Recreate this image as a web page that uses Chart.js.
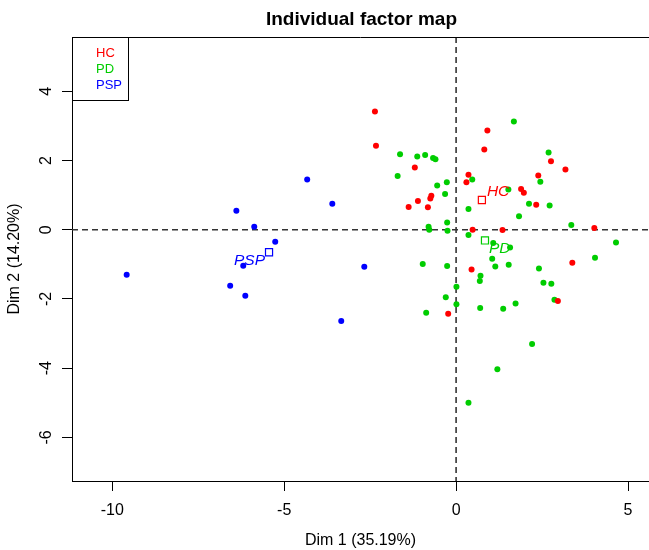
<!DOCTYPE html>
<html>
<head>
<meta charset="utf-8">
<script src="https://cdn.jsdelivr.net/npm/chart.js@4.4.0/dist/chart.umd.min.js"></script>
<style>
html,body{margin:0;padding:0;background:#fff;}
#c{display:block;}
</style>
</head>
<body>
<canvas id="c" width="649" height="550"></canvas>
<script>
// ---- data ----
const groups = ['HC', 'PD', 'PSP'];

const hcX = [-2.36,-2.33,-1.20,-0.72,-0.75,-1.11,-1.38,-0.82,0.36,0.30,0.91,0.82,2.76,3.18,2.39,1.89,1.97,2.33,4.02,0.48,1.35,0.45,-0.23,3.38,2.96];
const hcY = [3.42,2.43,1.80,0.98,0.90,0.83,0.66,0.65,1.59,1.37,2.87,2.32,1.98,1.74,1.57,1.18,1.07,0.72,0.05,0.00,-0.01,-1.15,-2.43,-0.95,-2.06];

const pdX = [-1.63,-1.13,-0.90,-0.67,-0.60,-1.70,-0.27,-0.55,-0.32,0.36,-0.26,-0.80,-0.78,-0.25,0.36,1.68,2.69,0.47,2.45,1.52,2.12,2.72,1.83,3.35,4.65,1.08,1.57,-0.97,-0.26,0.71,0.69,0.01,-0.30,0.01,0.70,-0.87,0.36,1.05,1.14,1.53,2.41,4.04,2.54,2.77,2.86,1.37,1.73,2.21,1.20];
const pdY = [2.18,2.12,2.16,2.07,2.04,1.55,1.37,1.28,1.03,0.60,0.21,0.09,0.00,-0.03,-0.15,3.13,2.23,1.45,1.39,1.16,0.75,0.70,0.39,0.14,-0.37,-0.38,-0.51,-0.99,-1.05,-1.33,-1.48,-1.65,-1.95,-2.15,-2.26,-2.40,-5.00,-0.84,-1.06,-1.01,-1.12,-0.81,-1.53,-1.56,-2.02,-2.28,-2.13,-3.30,-4.03];

const pspX = [-9.58,-6.39,-5.87,-5.26,-6.19,-6.57,-6.13,-4.33,-3.60,-2.67,-3.34];
const pspY = [-1.30,0.55,0.09,-0.35,-1.04,-1.62,-1.91,1.45,0.75,-1.07,-2.64];

const centroidX = [0.75, 0.84, -5.44];
const centroidY = [0.86, -0.31, -0.65];

const xTicks = [-10, -5, 0, 5];
const yTicks = [-6, -4, -2, 0, 2, 4];

const titleText = 'Individual factor map';
const xTitle = 'Dim 1 (35.19%)';
const yTitle = 'Dim 2 (14.20%)';

// ---- styles ----
const colors = ['#FF0000', '#00CD00', '#0000FF'];
const FONT = "'Liberation Sans', Arial, sans-serif";

const zip = (xs, ys) => xs.map((x, i) => ({x: x, y: ys[i]}));
const pointSets = [zip(hcX, hcY), zip(pdX, pdY), zip(pspX, pspY)];

const datasets = [];
groups.forEach((g, i) => {
  datasets.push({
    label: g,
    data: pointSets[i],
    backgroundColor: colors[i],
    borderWidth: 0,
    pointRadius: 3,
    pointHoverRadius: 3,
    pointStyle: 'circle'
  });
});
groups.forEach((g, i) => {
  datasets.push({
    label: g + ' centroid',
    data: [{x: centroidX[i], y: centroidY[i]}],
    backgroundColor: 'rgba(0,0,0,0)',
    borderColor: colors[i],
    borderWidth: 1.2,
    pointRadius: 5,
    pointHoverRadius: 5,
    pointStyle: 'rect'
  });
});

// label offsets (pixels) relative to centroid square: [dx, dy, align]
const labelPlacement = [[5, -8, 'left'], [4, 8, 'left'], [-4, 8, 'right']];

const decorPlugin = {
  id: 'decor',
  beforeDatasetsDraw(chart) {
    const {ctx, chartArea: a, scales: {x, y}} = chart;
    const x0 = x.getPixelForValue(0), y0 = y.getPixelForValue(0);
    ctx.save();
    ctx.strokeStyle = '#333';
    ctx.lineWidth = 1.6;
    ctx.setLineDash([6, 4]);
    ctx.beginPath();
    ctx.moveTo(x0, a.top); ctx.lineTo(x0, a.bottom);
    ctx.moveTo(a.left, y0); ctx.lineTo(a.right, y0);
    ctx.stroke();
    ctx.restore();
  },
  afterDraw(chart) {
    const {ctx, chartArea: a, scales: {x, y}} = chart;
    ctx.save();
    // top border of the box
    ctx.strokeStyle = '#000';
    ctx.lineWidth = 1;
    ctx.beginPath();
    ctx.moveTo(a.left, a.top + 0.5); ctx.lineTo(a.right, a.top + 0.5);
    ctx.stroke();
    // title
    ctx.fillStyle = '#000';
    ctx.font = 'bold 19px ' + FONT;
    ctx.textAlign = 'center';
    ctx.textBaseline = 'middle';
    ctx.fillText(titleText, (a.left + a.right) / 2 + 1, 20);
    // centroid labels
    ctx.font = 'italic 15.5px ' + FONT;
    groups.forEach((g, i) => {
      const px = x.getPixelForValue(centroidX[i]);
      const py = y.getPixelForValue(centroidY[i]);
      const p = labelPlacement[i];
      ctx.fillStyle = colors[i];
      ctx.textAlign = p[2];
      ctx.fillText(g, px + p[0], py + p[1]);
    });
    // legend box
    const lx = a.left, ly = a.top, lw = 56, lh = 63;
    ctx.fillStyle = '#fff';
    ctx.fillRect(lx, ly, lw, lh);
    ctx.strokeStyle = '#000';
    ctx.lineWidth = 1;
    ctx.strokeRect(lx + 0.5, ly + 0.5, lw, lh);
    ctx.font = '13px ' + FONT;
    ctx.textAlign = 'left';
    groups.forEach((g, i) => {
      ctx.fillStyle = colors[i];
      ctx.fillText(g, lx + 24, ly + 16 + i * 16);
    });
    ctx.restore();
  }
};

new Chart(document.getElementById('c'), {
  type: 'scatter',
  data: {datasets: datasets},
  options: {
    responsive: false,
    animation: false,
    events: [],
    layout: {autoPadding: false, padding: {top: 37, right: 0, left: 0, bottom: 0}},
    plugins: {legend: {display: false}, title: {display: false}, tooltip: {enabled: false}},
    scales: {
      x: {
        type: 'linear',
        min: -11.17,
        max: 5.61,
        afterBuildTicks: s => { s.ticks = xTicks.map(v => ({value: v})); },
        afterFit: s => { s.height = 69; s.paddingLeft = 0; s.paddingRight = 0; s.paddingTop = 0; s.paddingBottom = 0; },
        grid: {drawOnChartArea: false, drawTicks: true, tickLength: 10, tickColor: '#000', tickWidth: 1},
        border: {display: true, color: '#000', width: 1},
        ticks: {color: '#000', font: {family: FONT, size: 16}, padding: 10, maxRotation: 0},
        title: {display: true, text: xTitle, color: '#000', font: {family: FONT, size: 16}, padding: {top: 0, bottom: 0}}
      },
      y: {
        type: 'linear',
        min: -7.26,
        max: 5.57,
        afterBuildTicks: s => { s.ticks = yTicks.map(v => ({value: v})); },
        afterFit: s => { s.width = 72; s.paddingLeft = 0; s.paddingRight = 0; s.paddingTop = 0; s.paddingBottom = 0; },
        grid: {drawOnChartArea: false, drawTicks: true, tickLength: 10, tickColor: '#000', tickWidth: 1},
        border: {display: true, color: '#000', width: 1},
        ticks: {color: '#000', font: {family: FONT, size: 16}, padding: 8, minRotation: 90, maxRotation: 90, crossAlign: 'center'},
        title: {display: true, text: yTitle, color: '#000', font: {family: FONT, size: 16}, padding: {top: 5, bottom: 0}}
      }
    }
  },
  plugins: [decorPlugin]
});
</script>
</body>
</html>
